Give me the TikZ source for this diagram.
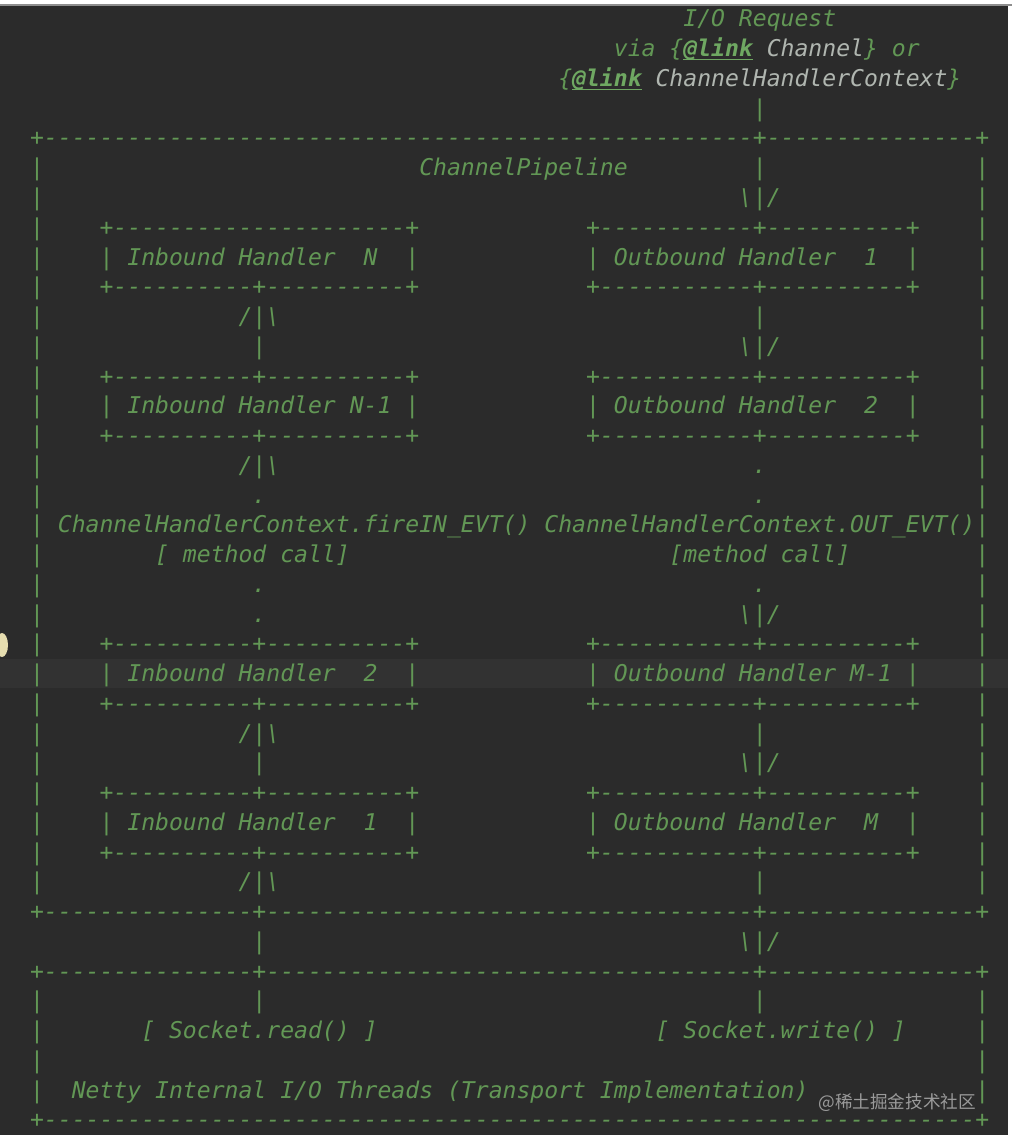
\documentclass[tikz,border=0pt]{standalone}
\usepackage{fontspec}
\setmonofont{DejaVu Sans Mono}[ItalicFont={DejaVu Sans Mono Oblique},BoldFont={DejaVu Sans Mono Bold},BoldItalicFont={DejaVu Sans Mono Bold Oblique}]
\newfontfamily\cjkfont{Noto Sans CJK SC}
\definecolor{editorbg}{HTML}{2B2B2B}
\definecolor{caretrow}{HTML}{323232}
\definecolor{codegreen}{HTML}{629755}
\definecolor{lnkgreen}{HTML}{6FA862}
\definecolor{refgray}{HTML}{B0B6B0}
\definecolor{topline}{HTML}{8E8E8E}
\definecolor{bulb}{HTML}{E6DDB0}
\definecolor{wmgray}{HTML}{9A9A9A}
\ExplSyntaxOn
\NewExpandableDocumentCommand\dashrun{m}{\prg_replicate:nn{#1}{-}}
\ExplSyntaxOff
\newcommand\ibox{+\dashrun{10}+\dashrun{10}+}
\newcommand\obox{+\dashrun{11}+\dashrun{10}+}
\newcommand\lnk{\rlap{\color{lnkgreen}\rule[-3.5pt]{69.5pt}{1.3pt}}{\bfseries\color{lnkgreen}@link}}
\newcommand\seg[3]{\node[txt] (r#1c#2) at ({30.05+#2*13.9},{27+#1*29.75}) {#3};}
\tikzset{
  txt/.style={anchor=base west, inner sep=0pt, outer sep=0pt, text=codegreen,
    font=\ttfamily\itshape\fontsize{23.09pt}{29.75pt}\selectfont\frenchspacing},
  wm/.style={anchor=base east, inner sep=0pt, text=wmgray, font=\cjkfont\fontsize{17.6pt}{20pt}\selectfont}
}
\begin{document}
\begin{tikzpicture}[x=1pt,y=-1pt]
\useasboundingbox (0,0) rectangle (1012,1142);
\fill[white] (0,0) rectangle (1012,1142);
\fill[topline] (0,4) rectangle (1012,6);
\fill[editorbg] (0,6) rectangle (1008,1135);
\fill[caretrow] (0,659) rectangle (1008,688);
\begin{scope}
\clip (0,6) rectangle (1008,1135);
\fill[bulb] (2,645) ellipse [x radius=6, y radius=12];
\end{scope}
% top request
\seg{0}{47}{I/O~Request}
\seg{1}{42}{via~\{\lnk~\textcolor{refgray}{Channel}\}~or}
\seg{2}{38}{\{\lnk~\textcolor{refgray}{ChannelHandlerContext}\}}
\seg{3}{52}{|}
% pipeline frame
\seg{4}{0}{+\dashrun{51}+\dashrun{15}+}
\foreach \r in {5,...,29,33,34,35,36} {
  \seg{\r}{0}{|}
  \seg{\r}{68}{|}
}
\seg{5}{28}{ChannelPipeline}
\seg{5}{52}{|}
\seg{6}{51}{\textbackslash|/}
% handler row 1
\seg{7}{5}{+\dashrun{21}+}
\seg{7}{40}{\obox}
\seg{8}{5}{|~Inbound~Handler~~N~~|}
\seg{8}{40}{|~Outbound~Handler~~1~~|}
\seg{9}{5}{\ibox}
\seg{9}{40}{\obox}
\seg{10}{15}{/|\textbackslash}
\seg{10}{52}{|}
\seg{11}{16}{|}
\seg{11}{51}{\textbackslash|/}
% handler row 2
\seg{12}{5}{\ibox}
\seg{12}{40}{\obox}
\seg{13}{5}{|~Inbound~Handler~N-1~|}
\seg{13}{40}{|~Outbound~Handler~~2~~|}
\seg{14}{5}{\ibox}
\seg{14}{40}{\obox}
\seg{15}{15}{/|\textbackslash}
\seg{15}{52}{.}
\seg{16}{16}{.}
\seg{16}{52}{.}
\seg{17}{2}{ChannelHandlerContext.fireIN\_EVT()~ChannelHandlerContext.OUT\_EVT()}
\seg{18}{9}{[~method~call]}
\seg{18}{46}{[method~call]}
\seg{19}{16}{.}
\seg{19}{52}{.}
\seg{20}{16}{.}
\seg{20}{51}{\textbackslash|/}
% handler row 3
\seg{21}{5}{\ibox}
\seg{21}{40}{\obox}
\seg{22}{5}{|~Inbound~Handler~~2~~|}
\seg{22}{40}{|~Outbound~Handler~M-1~|}
\seg{23}{5}{\ibox}
\seg{23}{40}{\obox}
\seg{24}{15}{/|\textbackslash}
\seg{24}{52}{|}
\seg{25}{16}{|}
\seg{25}{51}{\textbackslash|/}
% handler row 4
\seg{26}{5}{\ibox}
\seg{26}{40}{\obox}
\seg{27}{5}{|~Inbound~Handler~~1~~|}
\seg{27}{40}{|~Outbound~Handler~~M~~|}
\seg{28}{5}{\ibox}
\seg{28}{40}{\obox}
\seg{29}{15}{/|\textbackslash}
\seg{29}{52}{|}
% bottom frames
\seg{30}{0}{+\dashrun{15}+\dashrun{35}+\dashrun{15}+}
\seg{31}{16}{|}
\seg{31}{51}{\textbackslash|/}
\seg{32}{0}{+\dashrun{15}+\dashrun{35}+\dashrun{15}+}
\seg{33}{16}{|}
\seg{33}{52}{|}
\seg{34}{8}{[~Socket.read()~]}
\seg{34}{45}{[~Socket.write()~]}
\seg{36}{3}{Netty~Internal~I/O~Threads~(Transport~Implementation)}
\seg{37}{0}{+\dashrun{67}+}
% watermark
\node[wm] (watermark) at (976,1108) {@稀土掘金技术社区};
\end{tikzpicture}
\end{document}
